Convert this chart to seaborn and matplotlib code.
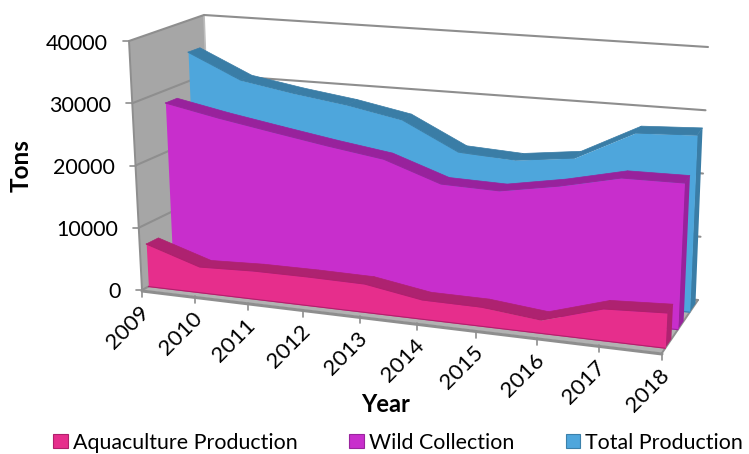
import numpy as np
import pandas as pd
import matplotlib
matplotlib.use("Agg")
import matplotlib.pyplot as plt
from matplotlib.patches import Patch
from matplotlib.transforms import Transform
import seaborn as sns

years = ["2009", "2010", "2011", "2012", "2013", "2014", "2015", "2016", "2017", "2018"]
aquaculture = [6870, 4140, 4490, 4540, 4460, 3010, 2970, 2060, 4860, 5350]
wild = [27950, 26240, 24750, 23300, 22000, 18900, 18700, 20340, 22480, 22600]
total = [34800, 30800, 29300, 28060, 26350, 21900, 21400, 22500, 27250, 27700]
series_names = ["Aquaculture Production", "Wild Collection", "Total Production"]
y_ticks = [0, 10000, 20000, 30000, 40000]

face_colors = ["#E62E8C", "#C82ECC", "#4EA6DC"]
ribbon_colors = ["#AE2270", "#98229C", "#3A7DA6"]
edge_colors = ["#B0206C", "#9A249E", "#3B80AA"]
depth_front = [0.09, 0.44, 0.77]
depth_back = [0.26, 0.60, 0.93]

sns.set_theme(style="white")
plt.rcParams["font.family"] = ["Lato", "DejaVu Sans"]

W, H = 749, 454
fig = plt.figure(figsize=(W / 100, H / 100), dpi=100)
ax = fig.add_axes([0, 0, 1, 1])

# chart box corners in figure pixels: (front/back, left/right, bottom/top)
FBL, FBR = np.array([142, 290.]), np.array([662, 353.])
BBL, BBR = np.array([213, 252.]), np.array([698, 300.])
FTL, FTR = np.array([129, 41.]), np.array([675, 88.])
BTL, BTR = np.array([204, 15.]), np.array([708, 47.])
N = len(years)
ZMAX = y_ticks[-1]
PERSP = 1.11


def project(k, d, v):
    k, d, v = np.asarray(k, float), np.asarray(d, float), np.asarray(v, float)
    f = k / (k + PERSP * (N - 1 - k))
    z = v / ZMAX
    f, d, z = f[..., None], d[..., None], z[..., None]
    bot = (1 - d) * ((1 - f) * FBL + f * FBR) + d * ((1 - f) * BBL + f * BBR)
    top = (1 - d) * ((1 - f) * FTL + f * FTR) + d * ((1 - f) * BTL + f * BTR)
    return (1 - z) * bot + z * top


class Slab(Transform):
    """Maps (category index, value) at a fixed depth onto the chart box."""
    input_dims = 2
    output_dims = 2
    has_inverse = False

    def __init__(self, slab_depth):
        super().__init__()
        self.slab_depth = slab_depth

    def transform_non_affine(self, xy):
        xy = np.asarray(xy, float)
        return project(xy[:, 0], np.full(len(xy), self.slab_depth), xy[:, 1])


idx = np.arange(N)
wall_col, floor_col, grid_col = "#A6A6A6", "#B2B2B2", "#8E8E8E"

# walls and floor
ax.fill(*np.array([FBL, FTL, BTL, BBL]).T, color=wall_col, lw=0, zorder=1)
ax.fill(*np.array([FBL, FBR, BBR, BBL]).T, color=floor_col, lw=0, zorder=1)
ax.plot(*np.array([BTL, BBL]).T, color="#BDBDBD", lw=1.2, zorder=1)
ax.plot(*np.array([FTL, FBL]).T, color=grid_col, lw=1.4, zorder=2)
ax.plot([FBL[0], FBR[0]], [FBL[1] + 1, FBR[1] + 1], color=grid_col, lw=2.2, zorder=2)
ax.plot(*np.array([FBR, BBR]).T, color=grid_col, lw=1.4, zorder=2)

# gridlines and y ticks
for v in y_ticks:
    a = project(0, 0, v)
    b = project(0, 1, v)
    c = project(N - 1, 1, v)
    ax.plot([a[0], b[0], c[0]], [a[1], b[1], c[1]], color=grid_col, lw=1.5, zorder=2,
            solid_joinstyle="miter")
    ax.plot([a[0] - 6, a[0]], [a[1], a[1]], color=grid_col, lw=1.2, zorder=2)
    ax.text(a[0] - 21, a[1] + 2.5, str(v), ha="right", va="center", fontsize=15.5, color="black")

# x ticks and labels
for k, lab in enumerate(years):
    p = project(k, 0, 0)
    ax.plot([p[0], p[0]], [p[1], p[1] + 7], color=grid_col, lw=1.2, zorder=2)
    ax.text(p[0] - 3, p[1] + 12, lab, rotation=45, rotation_mode="anchor",
            ha="right", va="top", fontsize=16, color="black")

# slabs, rear series first
values = [aquaculture, wild, total]
for i in [2, 1, 0]:
    vals = np.array(values[i], float)
    df = pd.DataFrame({"k": idx, "v": vals})
    front, back = depth_front[i], depth_back[i]
    z = 5 + (2 - i) * 3
    # end cap
    cap = np.array([project(N - 1, front, vals[-1]), project(N - 1, back, vals[-1]),
                    project(N - 1, back, 0), project(N - 1, front, 0)])
    ax.fill(cap[:, 0], cap[:, 1], color=ribbon_colors[i], lw=0, zorder=z)
    # top ribbon, one facet per interval
    for k in range(N - 1):
        quad = np.array([project(k, front, vals[k]), project(k + 1, front, vals[k + 1]),
                         project(k + 1, back, vals[k + 1]), project(k, back, vals[k])])
        ax.fill(quad[:, 0], quad[:, 1], facecolor=ribbon_colors[i], edgecolor=ribbon_colors[i],
                lw=0.5, zorder=z)
    # front face
    tr = Slab(front) + ax.transData
    ax.fill_between(idx, 0, vals, transform=tr, color=face_colors[i], lw=0, zorder=z + 1)
    sns.lineplot(data=df, x="k", y="v", ax=ax, transform=tr, color=edge_colors[i], lw=0.8,
                 estimator=None, sort=False, legend=False, zorder=z + 2)
    bottom = project(idx, np.full(N, front), np.zeros(N))
    ax.plot(bottom[:, 0], bottom[:, 1], color=edge_colors[i], lw=0.8, zorder=z + 2)

ax.text(21, 166, "Tons", rotation=90, ha="center", va="center", fontsize=17.5, fontweight="bold", color="black")
ax.text(386, 404, "Year", ha="center", va="center", fontsize=17, fontweight="bold", color="black")

handles = [Patch(facecolor=face_colors[i], edgecolor=edge_colors[i], lw=0.8, label=series_names[i]) for i in range(3)]
ax.legend(handles=handles, ncols=3, loc="lower left", bbox_to_anchor=(53 / W, 0.003), borderaxespad=0,
          borderpad=0, frameon=False, fontsize=15.4, handlelength=0.68, handleheight=0.68,
          handletextpad=0.25, columnspacing=2.4, labelcolor="black")

ax.set_xlim(0, W)
ax.set_ylim(H, 0)
ax.axis("off")
fig.savefig("out.png", dpi=100, facecolor="white")
